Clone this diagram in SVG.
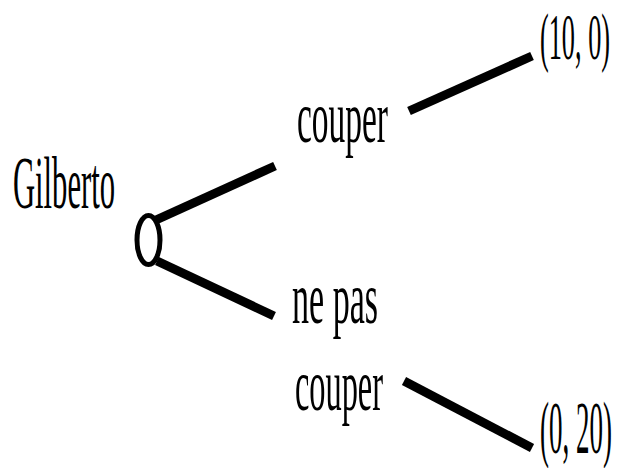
<svg xmlns="http://www.w3.org/2000/svg" width="619" height="468" viewBox="0 0 619 468">
<style>
.t{font-family:"Liberation Serif","Times New Roman",serif;font-size:74px;fill:#000}
.e{stroke:#000;stroke-width:9;stroke-linecap:butt;fill:none}
</style>
<rect width="619" height="468" fill="#fff"/>
<g id="connectors">
<line class="e" x1="156" y1="220" x2="275" y2="166"/>
<line class="e" x1="157" y1="261" x2="274" y2="316"/>
<line class="e" x1="409" y1="111" x2="532" y2="56"/>
<line class="e" x1="404" y1="381" x2="532" y2="448"/>
</g>
<g id="gilberto">
<text class="t" x="13" y="208" textLength="102" lengthAdjust="spacingAndGlyphs">Gilberto</text>
<ellipse cx="148.5" cy="240" rx="11.5" ry="24.5" fill="#fff" stroke="#000" stroke-width="5"/>
</g>
<g id="couper1">
<text class="t" x="297" y="142" textLength="91" lengthAdjust="spacingAndGlyphs">couper</text>
</g>
<g id="nepas">
<text class="t" x="292" y="323" textLength="86" lengthAdjust="spacingAndGlyphs">ne pas</text>
<text class="t" x="295" y="410" textLength="88" lengthAdjust="spacingAndGlyphs">couper</text>
</g>
<g id="payoff1">
<text class="t" style="font-size:65px" transform="translate(540,59) scale(0.4,1)" x="0" y="0" textLength="175" lengthAdjust="spacingAndGlyphs">(10, 0)</text>
</g>
<g id="payoff2">
<text class="t" transform="translate(540,453) scale(0.36,1)" x="0" y="0" textLength="200" lengthAdjust="spacingAndGlyphs">(0, 20)</text>
</g>
</svg>
